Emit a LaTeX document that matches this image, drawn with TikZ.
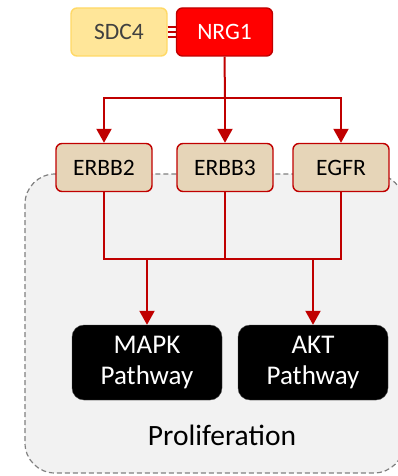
\documentclass[tikz,border=0pt]{standalone}
\usepackage{fontspec}
\setmainfont{Carlito}
\usetikzlibrary{arrows.meta,positioning}
\definecolor{darkred}{HTML}{C00000}
\definecolor{brightred}{HTML}{FF0000}
\definecolor{sandfill}{HTML}{FFE699}
\definecolor{sandline}{HTML}{FFD966}
\definecolor{receptor}{HTML}{E6D5B8}
\definecolor{panelfill}{HTML}{F2F2F2}
\definecolor{panelline}{HTML}{808080}
\definecolor{softtext}{HTML}{404040}
\tikzset{
  gene/.style={draw, line width=1.4pt, rounded corners=6pt, minimum width=96pt, minimum height=48pt, inner sep=0pt, font=\fontsize{23.5}{28}\selectfont},
  ligand/.style={gene, fill=brightred, draw=darkred, text=white},
  partner/.style={gene, fill=sandfill, draw=sandline, text=softtext},
  rec/.style={gene, fill=receptor, draw=darkred, text=black},
  pathway/.style={fill=black, draw=black!70, rounded corners=12pt, minimum width=150pt, minimum height=75pt, inner sep=0pt, text=white, align=center, font=\fontsize{27}{31}\selectfont},
  link/.style={draw=darkred, line width=2pt},
  flow/.style={link, -{Triangle[width=15pt,length=14pt]}},
}
\begin{document}
\begin{tikzpicture}[x=1pt,y=-1pt]
\clip (0,0) rectangle (398,476);
\useasboundingbox (0,0) rectangle (398,476);
% cell region
\draw[panelline, fill=panelfill, line width=1.2pt, dash pattern=on 5pt off 3pt, rounded corners=30pt] (25,174) rectangle (404,473);
\node at (222,435) [font=\fontsize{29.5}{34}\selectfont] (prolif) {Proliferation};
% ligands
\node[partner] (sdc4) at (119,32) {SDC4};
\node[ligand] (nrg1) at (224.5,32) {NRG1};
% receptors
\node[rec] (erbb2) at (104,167.5) {ERBB2};
\node[rec] (erbb3) at (225,167.5) {ERBB3};
\node[rec] (egfr) at (341,167.5) {EGFR};
% pathways
\node[pathway] (mapk) at (147,362.5) {MAPK\\Pathway};
\node[pathway] (akt) at (313,362.5) {AKT\\Pathway};
% SDC4 -- NRG1 binding
\foreach \dy in {-5,0,5}
  \draw[link, line width=1.4pt] ([yshift=-\dy pt]sdc4.east) -- ([yshift=-\dy pt]nrg1.west);
% NRG1 to receptors
\coordinate (split) at (225,98);
\draw[link] (nrg1.south) -- (split);
\draw[flow] (split) -| (erbb2);
\draw[flow] (split) -- (erbb3);
\draw[flow] (split) -| (egfr);
% receptors to pathways
\coordinate (join) at (225,259);
\coordinate (joinl) at (104,259);
\coordinate (joinr) at (341,259);
\draw[link] (erbb2.south) -- (joinl) -- (joinr) -- (egfr.south);
\draw[link] (erbb3.south) -- (join);
\draw[flow] (mapk.north |- join) -- (mapk);
\draw[flow] (akt.north |- join) -- (akt);
\end{tikzpicture}
\end{document}
